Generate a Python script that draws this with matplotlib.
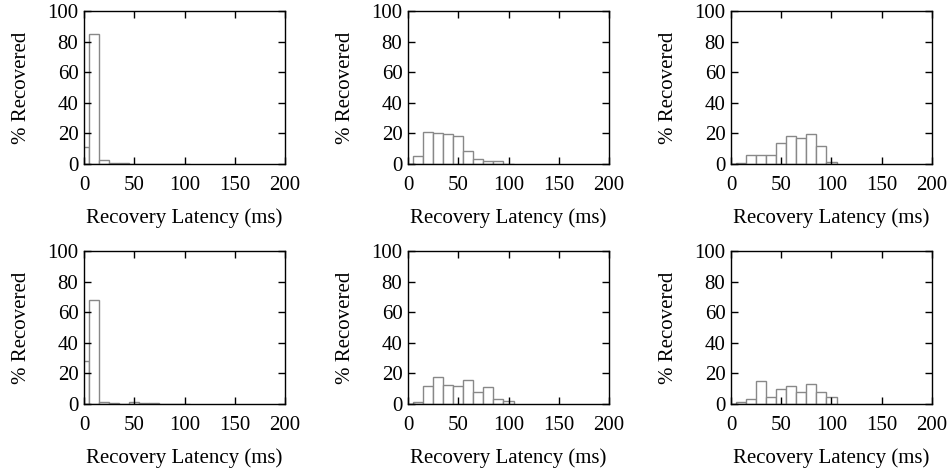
import numpy as np
import matplotlib.pyplot as plt

plt.rcParams['font.family'] = ['Liberation Serif', 'DejaVu Serif']
plt.rcParams['font.size'] = 15

# bin centres (ms), each bin 10 ms wide
bins = [0, 10, 20, 30, 40, 50, 60, 70, 80, 90, 100]

# % recovered per bin, one list per panel (row by row)
top_left = [11, 85, 2.5, 0.6, 0.5, 0, 0, 0, 0, 0, 0]
top_mid = [0, 5, 21, 20.5, 19.5, 18, 8.3, 3.5, 1.7, 1.7, 0]
top_right = [0, 0.5, 6, 6, 6, 14, 18.2, 16.9, 19.5, 11.8, 1]
bot_left = [28, 68, 1, 0.8, 0.3, 1, 0.5, 0.5, 0, 0, 0]
bot_mid = [0, 1.6, 12, 17.5, 12.3, 11.5, 16, 8, 11.3, 3, 2]
bot_right = [0, 1.5, 3, 15.2, 4.3, 9.5, 11.5, 7.6, 12.8, 8, 4.6]

panels = [top_left, top_mid, top_right, bot_left, bot_mid, bot_right]

W, H = 953, 468
lefts = [84, 408, 731]
bottoms = [164, 404]
aw, ah = 201, 153

fig = plt.figure(figsize=(W / 100, H / 100), dpi=100)

for i, vals in enumerate(panels):
    r, c = divmod(i, 3)
    ax = fig.add_axes([lefts[c] / W, 1 - bottoms[r] / H, aw / W, ah / H])
    ax.bar(bins, vals, width=10, align='center', facecolor='white',
           edgecolor='#888888', linewidth=1.0)
    ax.set_xlim(0, 200)
    ax.set_ylim(0, 100)
    ax.set_xticks([0, 50, 100, 150, 200])
    ax.set_yticks([0, 20, 40, 60, 80, 100])
    ax.tick_params(direction='in', length=5, width=1, top=True, right=True,
                   colors='black')
    ax.tick_params(axis='x', pad=9)
    ax.tick_params(axis='y', pad=4)
    for s in ax.spines.values():
        s.set_linewidth(1.0)
    ax.set_xlabel('Recovery Latency (ms)', labelpad=9)
    ax.set_ylabel('% Recovered', labelpad=12)

fig.savefig('out.png', dpi=100)
